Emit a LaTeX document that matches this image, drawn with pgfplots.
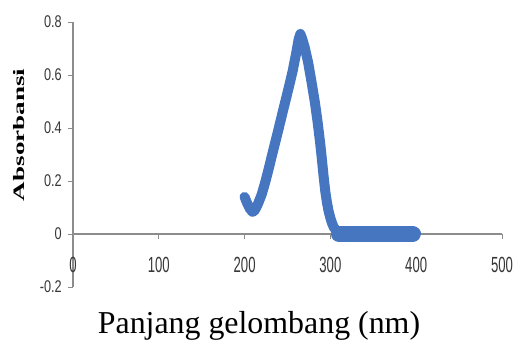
\documentclass[border=0pt]{standalone}
\usepackage{fontspec}
\setmainfont{Liberation Serif}
\usepackage{graphicx}
\usepackage{pgfplots}
\pgfplotsset{compat=1.18}
\newfontfamily\ytickfont{Liberation Sans}[FakeStretch=0.75]
\newfontfamily\xtickfont{Liberation Sans}[FakeStretch=0.6]
\definecolor{curve}{RGB}{70,118,192}
\definecolor{axgray}{RGB}{140,140,140}
\definecolor{tickgray}{RGB}{55,55,55}
\pgfplotstableread{
x y
200 0.140
203 0.116
206 0.096
209 0.084
211 0.086
213 0.096
216 0.117
220 0.150
224 0.195
228 0.245
232 0.298
236 0.350
240 0.402
244 0.455
248 0.507
252 0.560
256 0.615
260 0.680
263 0.735
265 0.755
267 0.738
270 0.705
274 0.648
278 0.574
282 0.495
285 0.425
288 0.345
290 0.285
292 0.220
294 0.162
296 0.118
298 0.085
300 0.060
302 0.040
304 0.025
307 0.013
310 0.007
315 0.004
320 0.003
340 0.003
360 0.003
380 0.003
400 0.003
}\spectrum
\pgfplotstableread{
x y
310 0.000
320 0.000
340 0.000
360 0.000
380 0.000
396 0.000
}\flatpart
\begin{document}
\begin{tikzpicture}
\useasboundingbox (-73bp,-55bp) rectangle (443bp,287bp);
\begin{axis}[
  scale only axis, width=429bp, height=265bp,
  xmin=0, xmax=500, ymin=-0.2, ymax=0.8,
  axis x line=middle, axis y line=left,
  axis line style={-, draw=axgray, line width=1.2bp},
  xtick={0,100,200,300,400,500},
  xticklabels={0,100,200,300,400,500},
  ytick={-0.2,0,0.2,0.4,0.6,0.8},
  yticklabels={-0.2,0,0.2,0.4,0.6,0.8},
  hide obscured x ticks=false, hide obscured y ticks=false,
  tick align=outside, major tick length=5bp,
  tick style={draw=axgray, line width=0.8bp},
  yticklabel style={font=\fontsize{17}{18}\selectfont\ytickfont, text=tickgray, inner sep=0pt, anchor=east, xshift=-6bp},
  xticklabel style={font=\fontsize{22}{23}\selectfont\xtickfont, text=tickgray, inner sep=0pt, anchor=north, yshift=-18bp},
  xlabel={Panjang gelombang (nm)},
  xlabel style={font=\fontsize{32}{34}\selectfont, at={(axis description cs:0.4336,-0.177)}, anchor=base},
  ylabel={\scalebox{1.7}[1]{\bfseries Absorbansi}},
  ylabel style={font=\fontsize{16}{17}\selectfont, at={(axis description cs:-0.126,0.574)}, anchor=center, rotate=0},
]
\addplot[curve, line width=16bp, line cap=round] table[x=x,y=y] {\flatpart};
\addplot[curve, line width=10bp, line join=round, line cap=round] table[x=x,y=y] {\spectrum};
\end{axis}
\end{tikzpicture}
\end{document}
